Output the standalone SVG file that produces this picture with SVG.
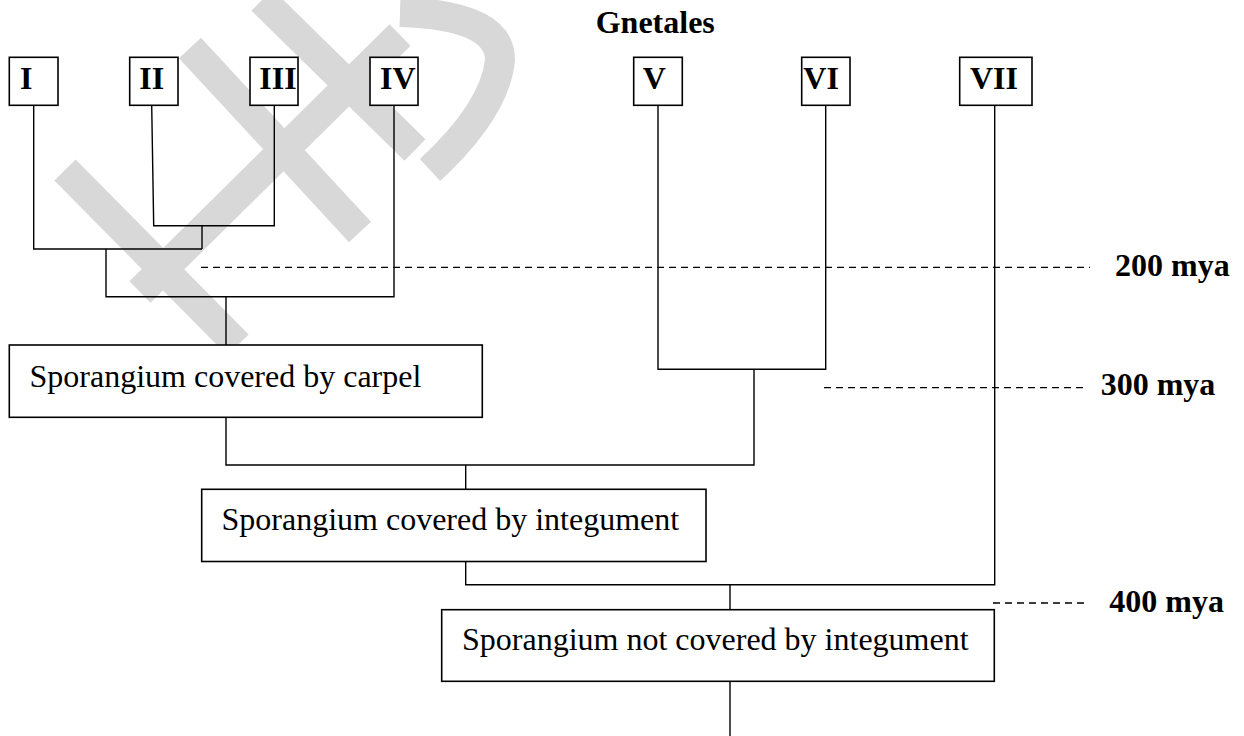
<svg xmlns="http://www.w3.org/2000/svg" width="1244" height="736" viewBox="0 0 1244 736">
<style>
.bg{fill:#ffffff}
.wm{fill:none;stroke:#d8d8d8;stroke-width:30;stroke-linecap:butt}
.box{fill:#ffffff;stroke:#000;stroke-width:1.6}
.ln{fill:none;stroke:#000;stroke-width:1.4}
.dash{fill:none;stroke:#000;stroke-width:1.3;stroke-dasharray:7 5}
.lab{font-family:"Liberation Serif","Times New Roman",serif;font-size:32px;fill:#000}
.b{font-weight:bold}
</style>
<rect class="bg" x="0" y="0" width="1244" height="736"/>
<g id="watermark">
<path class="wm" d="M65,170 L238,345"/>
<path class="wm" d="M190,48 L360,232"/>
<path class="wm" d="M140,292 L400,35"/>
<path class="wm" d="M262,0 L415,150"/>
<path class="wm" d="M400,12 Q500,15 500,60 Q495,110 430,170"/>
</g>
<g id="connectors">
<path class="ln" d="M33.7,105.3 V249 H202"/>
<path class="ln" d="M151.7,105.3 L153.7,225.7 H274.3 V105.3"/>
<path class="ln" d="M202,225.7 V249"/>
<path class="ln" d="M106,249 V296.7 H394 V105.3"/>
<path class="ln" d="M226,296.7 V345"/>
<path class="ln" d="M658,105.3 V369.3 H825.7 V105.3"/>
<path class="ln" d="M754,369.3 V465 H226 V417.3"/>
<path class="ln" d="M465.7,465 V489.3"/>
<path class="ln" d="M465.7,561.5 V584.7 H994.7 V105.3"/>
<path class="ln" d="M730,584.7 V609.7"/>
<path class="ln" d="M730,681.3 V736"/>
</g>
<g id="timescale">
<path class="dash" d="M201,267.3 H1090"/>
<path class="dash" d="M824,387.7 H1085"/>
<path class="dash" d="M993,603 H1085"/>
<text class="lab b" x="1115" y="275.5">200 mya</text>
<text class="lab b" x="1100.7" y="395.3">300 mya</text>
<text class="lab b" x="1109.3" y="611.7">400 mya</text>
</g>
<g id="title"><text class="lab b" x="595.7" y="33.3">Gnetales</text></g>
<g id="n1"><rect class="box" x="9.3" y="57.3" width="48.7" height="48"/><text class="lab b" x="20" y="89.3">I</text></g>
<g id="n2"><rect class="box" x="129.7" y="57.3" width="48.3" height="48"/><text class="lab b" x="139.3" y="89.3">II</text></g>
<g id="n3"><rect class="box" x="250" y="57.3" width="48" height="48"/><text class="lab b" x="259.3" y="89.3">III</text></g>
<g id="n4"><rect class="box" x="370" y="57.3" width="48" height="48"/><text class="lab b" x="380" y="89.3">IV</text></g>
<g id="n5"><rect class="box" x="633.7" y="57.3" width="48.6" height="48"/><text class="lab b" x="642.7" y="89.3">V</text></g>
<g id="n6"><rect class="box" x="801.7" y="57.3" width="48.3" height="48"/><text class="lab b" x="803.3" y="89.3">VI</text></g>
<g id="n7"><rect class="box" x="959.7" y="57.3" width="72.3" height="48"/><text class="lab b" x="970" y="89.3">VII</text></g>
<g id="carpel"><rect class="box" x="9.3" y="345" width="473" height="72.3"/><text class="lab" x="29.5" y="386.7">Sporangium covered by carpel</text></g>
<g id="integument"><rect class="box" x="201.7" y="489.3" width="504.3" height="72.2"/><text class="lab" x="221.5" y="530.3">Sporangium covered by integument</text></g>
<g id="notcovered"><rect class="box" x="441.7" y="609.7" width="552.6" height="71.6"/><text class="lab" x="462" y="649.7">Sporangium not covered by integument</text></g>
</svg>
